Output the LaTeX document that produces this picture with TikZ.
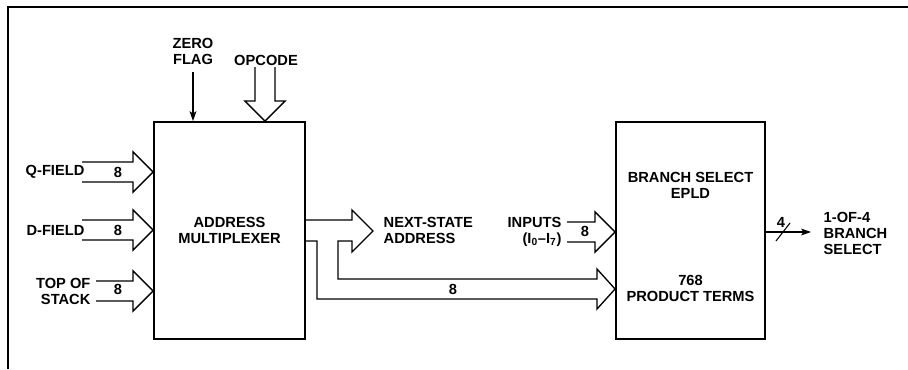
\documentclass[tikz,border=0pt]{standalone}
\usepackage{fontspec}
\setmainfont{Liberation Sans}
\usetikzlibrary{arrows.meta}

\begin{document}
\begin{tikzpicture}[
  x=0.75pt, y=-0.75pt,
  font=\fontsize{11}{12}\selectfont\bfseries,
  box/.style={draw, line width=1.4pt, align=center, inner sep=0pt},
  bus/.style={line width=1pt},
  sig/.style={-{Stealth[length=2.6mm, width=1.8mm, inset=0.6mm]}, line width=0.9pt},
  frame/.style={line width=0.8pt},
  pics/busarrow/.style={code={
    \draw[bus] (-#1,-10) -- (-20,-10) -- (-20,-20) -- (0,0)
               -- (-20,20) -- (-20,10) -- (-#1,10);}}
]
  \useasboundingbox (0,0) rectangle (908,369);
  \draw[frame] (8,369) -- (8,7) -- (908,7);

  % blocks
  \node[box, minimum width=113.25pt, minimum height=162.75pt] (mux) at (229.5,230.5)
       {ADDRESS\\MULTIPLEXER};
  \node[box, minimum width=111.75pt, minimum height=162.75pt] (epld) at (690.5,230.5) {};
  \node[align=center] (eplda) at (690.5,185) {BRANCH SELECT\\EPLD};
  \node[align=center] (epldb) at (690.5,288) {768\\PRODUCT TERMS};

  % inputs to the multiplexer
  \node[anchor=east, inner sep=1pt] (qfield) at (86,172) {Q-FIELD};
  \node[anchor=east, inner sep=1pt] (dfield) at (86,230) {D-FIELD};
  \node[anchor=east, align=right, inner sep=1pt] (tos) at (92,291) {TOP OF\\STACK};
  \node (q8) at (118,172) {8};
  \node (d8) at (118,230) {8};
  \node (s8) at (118,289) {8};
  \pic at (mux.west |- 0,172) {busarrow=71};
  \pic at (mux.west |- 0,230) {busarrow=71};
  \pic at (mux.west |- 0,291) {busarrow=57};

  \node[align=center] (zflag) at (193,51) {ZERO\\FLAG};
  \draw[sig] ([yshift=-2pt]zflag.south) -- (zflag.south |- mux.north);
  \node (opcode) at (266,60) {OPCODE};
  \pic[rotate=-90] at (mux.north -| 265,0) {busarrow=54};

  % next-state address bus
  \draw[bus] (mux.east |- 0,220) -- (352,220) -- (352,210) -- (373,231)
       -- (352,252) -- (352,241) -- (338,241) -- (338,279) -- (597,279)
       -- (597,269) -- (epld.west |- 0,289) -- (597,309) -- (597,299)
       -- (317,299) -- (317,241) -- (mux.east |- 0,241);
  \node[anchor=west, align=left] (nsa) at (379,230) {NEXT-STATE\\ADDRESS};
  \node (ns8) at (453,289) {8};

  % branch select EPLD
  \pic at (epld.west |- 0,232) {busarrow=48};
  \node[anchor=east, align=right, inner sep=1pt] (inputs) at (563,232)
       {INPUTS\\(I\textsubscript{0}--I\textsubscript{7})};
  \node (in8) at (585,231) {8};

  \coordinate (bsout) at (811,232);
  \draw[sig] (epld.east |- bsout) -- (bsout);
  \draw[line width=0.8pt] (776,241) -- (790,223);
  \node (bs4) at (781,222) {4};
  \node[anchor=west, align=left] (bsel) at (819,233) {1-OF-4\\BRANCH\\SELECT};
\end{tikzpicture}
\end{document}
